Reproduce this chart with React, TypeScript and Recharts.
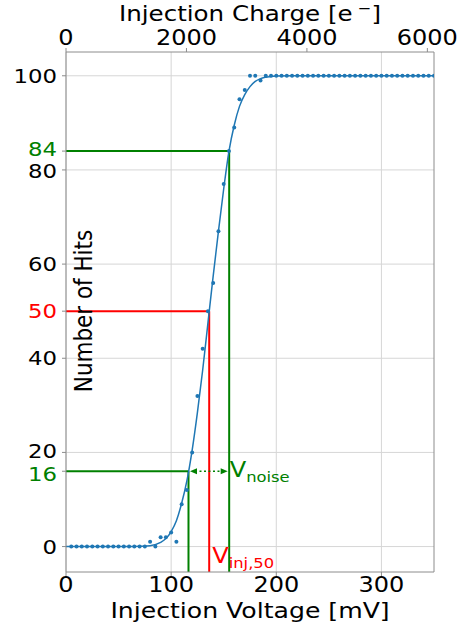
import React from "react";
import {
  ComposedChart, Line, Scatter, XAxis, YAxis, CartesianGrid, ReferenceLine, ReferenceDot,
} from "recharts";

// measured hits per injection voltage step (100 injections each)
const hitVoltages = [
  5, 10, 15, 20, 25, 30, 35, 40, 45, 50, 55, 60, 65, 70, 75,
  80, 85, 90, 95, 100, 105, 110, 115, 120, 125, 130, 135, 140, 145, 150,
  155, 160, 165, 170, 175, 180, 185, 190, 195, 200, 205, 210, 215, 220, 225,
  230, 235, 240, 245, 250, 255, 260, 265, 270, 275, 280, 285, 290, 295, 300,
  305, 310, 315, 320, 325, 330, 335, 340, 345, 350,
];
const hitCounts = [
  0, 0, 0, 0, 0, 0, 0, 0, 0, 0, 0, 0, 0, 0, 0,
  1, 0, 2, 2, 3, 1, 9, 12, 20, 32, 42, 50, 56, 67, 77,
  84, 89, 95, 97, 100, 100, 99, 100, 100, 100, 100, 100, 100, 100, 100,
  100, 100, 100, 100, 100, 100, 100, 100, 100, 100, 100, 100, 100, 100, 100,
  100, 100, 100, 100, 100, 100, 100, 100, 100, 100,
];

// s-curve fit, sampled along the voltage axis
const fitVoltages = [0, 60, 70, 80, 90, 95, 100, 105, 110, 115, 120, 125, 130, 135, 140, 145, 150, 155, 160, 165, 170, 175, 180, 185, 190, 200, 215, 350];
const fitHits = [0, 0, 0.05, 0.2, 0.9, 1.7, 3.2, 5.5, 9.2, 14, 20.5, 28.5, 37.5, 47.5, 57.5, 67, 76, 84, 89.5, 93.5, 96, 97.7, 98.8, 99.4, 99.7, 99.95, 100, 100];

const voltageTicks = [0, 100, 200, 300];
const chargeTicks = [0, 2000, 4000, 6000];
const hitGrid = [0, 20, 40, 60, 80, 100];
const hitTicks = [0, 16, 20, 40, 50, 60, 80, 84, 100];

// 16 / 50 / 84 % levels and the voltages where the fit crosses them
const lowLevel = 16;
const midLevel = 50;
const highLevel = 84;
const vLow = 116.5;
const vMid = 136.2;
const vHigh = 155.2;

const hitData = hitVoltages.map((v, i) => ({ v, hits: hitCounts[i] }));
const fitData = fitVoltages.map((v, i) => ({ v, hits: fitHits[i] }));
// keeps the charge axis alive; never drawn
const chargeAnchor = chargeTicks.map((c) => ({ c, hits: 0 }));

const FONT = "DejaVu Sans";
const SX = 1.17; // glyphs are a little wider than tall
const GREEN = "#008000";
const RED = "#ff0000";
const BLUE = "#1f77b4";
const SPINE = "#8c8c8c";
const GRID = "#d6d6d6";
const Y_MIN = -5.4;
const Y_MAX = 105.05;
const MID_X = 250;

function Stretch({ x, y, size, fill = "#000", anchor = "middle", children }: any) {
  return (
    <text
      transform={`translate(${x},${y}) scale(${SX},1)`}
      fontSize={size}
      fill={fill}
      textAnchor={anchor}
      fontFamily={FONT}
    >
      {children}
    </text>
  );
}

const tickColor = (v: number) =>
  v === lowLevel || v === highLevel ? GREEN : v === midLevel ? RED : "#000";

// small nudges so the close pairs 80/84 and 16/20 don't collide
const tickNudge: Record<number, number> = { 84: -2, 80: 1.5, 20: -1, 16: 3 };

const HitTick = ({ x, y, payload }: any) => (
  <Stretch
    x={x}
    y={y + 7 + (tickNudge[payload.value] || 0)}
    size={19.5}
    anchor="end"
    fill={tickColor(payload.value)}
  >
    {payload.value}
  </Stretch>
);

const VoltageTick = ({ x, y, payload }: any) => (
  <Stretch x={x} y={y + 14.3} size={20.5}>{payload.value}</Stretch>
);

const ChargeTick = ({ x, y, payload }: any) => (
  <Stretch x={x} y={y + 1.5} size={20.5}>{payload.value}</Stretch>
);

const VoltageTitle = () => (
  <Stretch x={MID_X} y={617.5} size={21.5}>Injection Voltage [mV]</Stretch>
);

const ChargeTitle = () => (
  <Stretch x={MID_X} y={20.5} size={21}>
    Injection Charge [e<tspan fontSize={14} dy={-8}> −</tspan>
    <tspan dy={8}>]</tspan>
  </Stretch>
);

const HitsTitle = () => (
  <text
    transform={`translate(83,311) rotate(-90) scale(1,${SX})`}
    fontSize={21.5}
    fontFamily={FONT}
    textAnchor="middle"
    dominantBaseline="central"
    fill="#000"
  >
    Number of Hits
  </text>
);

// dotted double arrow between the 16 % and 84 % voltages
const NoiseArrow = ({ x1, y1, x2 }: any) => {
  const a = x1 + 1.5;
  const b = x2 - 1.5;
  return (
    <g>
      <line x1={a + 5} y1={y1} x2={b - 5} y2={y1} stroke={GREEN} strokeWidth={1.5} strokeDasharray="2 2.5" />
      <polygon points={`${a},${y1} ${a + 7},${y1 - 3} ${a + 7},${y1 + 3}`} fill={GREEN} />
      <polygon points={`${b},${y1} ${b - 7},${y1 - 3} ${b - 7},${y1 + 3}`} fill={GREEN} />
    </g>
  );
};

const NoiseLabel = ({ cx, cy }: any) => (
  <Stretch x={cx + 0.5} y={cy} size={20.6} anchor="start" fill={GREEN}>
    V<tspan fontSize={14} dy={5}>noise</tspan>
  </Stretch>
);

const InjLabel = ({ cx, cy }: any) => (
  <Stretch x={cx + 3} y={cy} size={20.6} anchor="start" fill={RED}>
    V<tspan fontSize={14} dy={4.5}>inj,50</tspan>
  </Stretch>
);

const ScatterDot = ({ cx, cy }: any) => <circle cx={cx} cy={cy} r={2} fill={BLUE} />;

const ids = { xAxisId: "volt", yAxisId: "hits" };

export default function App() {
  return (
    <div style={{ position: "absolute", left: 0, top: 0, width: 463, height: 624, background: "#fff" }}>
      <ComposedChart width={463} height={624} margin={{ top: 8, right: 29, bottom: 0, left: 0 }}>
        <CartesianGrid {...ids} stroke={GRID} horizontalValues={hitGrid} verticalValues={voltageTicks} />

        <XAxis
          xAxisId="volt"
          dataKey="v"
          type="number"
          domain={[0, 350]}
          allowDataOverflow
          ticks={voltageTicks}
          interval={0}
          height={52}
          stroke={SPINE}
          tickSize={4}
          tickMargin={2}
          tick={<VoltageTick />}
          label={<VoltageTitle />}
        />
        <XAxis
          xAxisId="charge"
          dataKey="c"
          orientation="top"
          type="number"
          domain={[0, 6110]}
          allowDataOverflow
          ticks={chargeTicks}
          interval={0}
          height={44}
          stroke={SPINE}
          tickSize={4}
          tickMargin={5}
          tick={<ChargeTick />}
          label={<ChargeTitle />}
        />
        <YAxis
          yAxisId="hits"
          type="number"
          domain={[Y_MIN, Y_MAX]}
          allowDataOverflow
          ticks={hitTicks}
          interval={0}
          width={66}
          stroke={SPINE}
          tickSize={4}
          tickMargin={5}
          tick={<HitTick />}
          label={<HitsTitle />}
        />

        {/* right-hand frame edge */}
        <ReferenceLine {...ids} x={350} stroke={SPINE} strokeWidth={1} />

        {/* 84 % */}
        <ReferenceLine {...ids} segment={[{ x: 0, y: highLevel }, { x: vHigh, y: highLevel }]} stroke={GREEN} strokeWidth={2} />
        <ReferenceLine {...ids} segment={[{ x: vHigh, y: highLevel }, { x: vHigh, y: Y_MIN }]} stroke={GREEN} strokeWidth={2} />
        {/* 50 % */}
        <ReferenceLine {...ids} segment={[{ x: 0, y: midLevel }, { x: vMid, y: midLevel }]} stroke={RED} strokeWidth={2} />
        <ReferenceLine {...ids} segment={[{ x: vMid, y: midLevel }, { x: vMid, y: Y_MIN }]} stroke={RED} strokeWidth={2} />
        {/* 16 % */}
        <ReferenceLine {...ids} segment={[{ x: 0, y: lowLevel }, { x: vLow, y: lowLevel }]} stroke={GREEN} strokeWidth={2} />
        <ReferenceLine {...ids} segment={[{ x: vLow, y: lowLevel }, { x: vLow, y: Y_MIN }]} stroke={GREEN} strokeWidth={2} />
        <ReferenceLine {...ids} segment={[{ x: vLow, y: lowLevel }, { x: vHigh, y: lowLevel }]} shape={NoiseArrow} />

        <Line xAxisId="charge" yAxisId="hits" data={chargeAnchor} dataKey="hits" stroke="none" dot={false} activeDot={false} isAnimationActive={false} />
        <Line {...ids} data={fitData} dataKey="hits" type="monotone" stroke={BLUE} strokeWidth={1.5} dot={false} isAnimationActive={false} />
        <Scatter {...ids} data={hitData} dataKey="hits" fill={BLUE} shape={ScatterDot} isAnimationActive={false} />

        <ReferenceDot {...ids} x={vHigh} y={14.85} r={0} shape={NoiseLabel} />
        <ReferenceDot {...ids} x={vMid} y={-3.55} r={0} shape={InjLabel} />
      </ComposedChart>
    </div>
  );
}
